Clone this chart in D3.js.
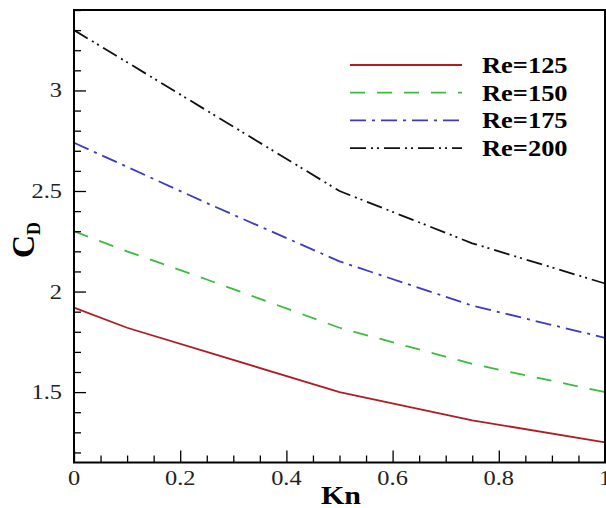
<!DOCTYPE html>
<html lang="en">
<head>
<meta charset="UTF-8">
<title>CD vs Kn</title>
<script src="https://d3js.org/d3.v7.min.js"></script>
<style>
    body, html {
        margin: 0;
        background: white;
    }
</style>
</head>
<body>
<svg id="chart"></svg>
<script>
    // data
    const kn = [0, 0.1, 0.25, 0.5, 0.75, 1];
    const re125 = [1.92, 1.82, 1.70, 1.50, 1.36, 1.25];
    const re150 = [2.30, 2.20, 2.06, 1.82, 1.64, 1.50];
    const re175 = [2.74, 2.62, 2.44, 2.15, 1.93, 1.77];
    const re200 = [3.30, 3.14, 2.90, 2.50, 2.24, 2.04];
    const seriesNames = ["Re=125", "Re=150", "Re=175", "Re=200"];
    const xTicks = [0, 0.2, 0.4, 0.6, 0.8, 1];
    const yTicks = [1.5, 2, 2.5, 3];

    const serif = "'Liberation Serif', 'Times New Roman', Times, serif";

    const svgWidth = 606, svgHeight = 508;
    const margin = { top: 10, right: 1, bottom: 45.5, left: 74 };

    const svg = d3.select("#chart")
        .attr("width", svgWidth)
        .attr("height", svgHeight)
        .style("font-family", serif);

    const x = d3.scaleLinear().domain([0, 1]).range([margin.left, svgWidth - margin.right]);
    const y = d3.scaleLinear().domain([1.15, 3.4]).range([svgHeight - margin.bottom, margin.top]);

    // image is a bit stretched sideways, widen the text to match
    function stretch(sel, k) {
        sel.each(function () {
            const w = this.getComputedTextLength();
            d3.select(this).attr("textLength", w * k).attr("lengthAdjust", "spacingAndGlyphs");
        });
    }

    const styles = [
        { color: "#b01c22", dash: null },
        { color: "#3dbb3d", dash: "15,12" },
        { color: "#3b3bc4", dash: "16,6,3,6" },
        { color: "#111111", dash: "16,5,2,4,2,5" }
    ];
    const series = [re125, re150, re175, re200];

    const line = d3.line()
        .x((d, i) => x(kn[i]))
        .y(d => y(d));

    series.forEach((s, i) => {
        svg.append("path")
            .datum(s)
            .attr("fill", "none")
            .attr("stroke", styles[i].color)
            .attr("stroke-width", 1.8)
            .attr("stroke-dasharray", styles[i].dash)
            .attr("d", line);
    });

    // x axis, ticks point inward
    const xAxis = svg.append("g")
        .attr("transform", `translate(0,${y(1.15)})`)
        .call(d3.axisBottom(x).tickValues(d3.range(0, 1.0001, 0.05)).tickSize(-7).tickFormat(""));
    xAxis.selectAll(".tick line").filter(d => xTicks.some(t => Math.abs(t - d) < 1e-6)).attr("y2", -12);
    xAxis.selectAll(".tick line").attr("stroke-width", 1.3);
    xAxis.select(".domain").remove();

    svg.append("g").selectAll("text")
        .data(xTicks)
        .enter().append("text")
        .attr("x", d => x(d))
        .attr("y", 485)
        .attr("text-anchor", "middle")
        .attr("font-family", serif)
        .attr("font-size", 20)
        .attr("fill", "#222")
        .text(d => d3.format("")(d))
        .call(stretch, 1.22);

    // y axis
    const yAxis = svg.append("g")
        .attr("transform", `translate(${x(0)},0)`)
        .call(d3.axisLeft(y).tickValues(d3.range(1.2, 3.4001, 0.1)).tickSize(-7).tickFormat(""));
    yAxis.selectAll(".tick line").filter(d => yTicks.some(t => Math.abs(t - d) < 1e-6)).attr("x2", 12);
    yAxis.selectAll(".tick line").attr("stroke-width", 1.3);
    yAxis.select(".domain").remove();

    svg.append("g").selectAll("text")
        .data(yTicks)
        .enter().append("text")
        .attr("x", 62)
        .attr("y", d => y(d) + 7)
        .attr("text-anchor", "end")
        .attr("font-family", serif)
        .attr("font-size", 20)
        .attr("fill", "#222")
        .text(d => d)
        .call(stretch, 1.22);

    // frame
    svg.append("rect")
        .attr("x", x(0))
        .attr("y", y(3.4))
        .attr("width", x(1) - x(0))
        .attr("height", y(1.15) - y(3.4))
        .attr("fill", "none")
        .attr("stroke", "black")
        .attr("stroke-width", 2);

    // axis titles
    svg.append("text")
        .attr("x", 341)
        .attr("y", 504)
        .attr("text-anchor", "middle")
        .attr("font-family", serif)
        .attr("font-size", 25)
        .attr("font-weight", "bold")
        .text("Kn")
        .call(stretch, 1.2);

    const cd = svg.append("text")
        .attr("transform", "translate(34,240) rotate(-90)")
        .attr("text-anchor", "middle")
        .attr("font-family", serif)
        .attr("font-size", 32)
        .attr("font-weight", "bold");
    cd.append("tspan").text("C");
    cd.append("tspan").attr("dy", 6).attr("font-size", 18).text("D");

    // legend
    const legend = svg.selectAll(".legend")
        .data(seriesNames)
        .enter().append("g")
        .attr("class", "legend")
        .attr("transform", (d, i) => `translate(0,${65 + i * 27.7})`);

    legend.append("line")
        .attr("x1", 350)
        .attr("x2", 462)
        .attr("stroke", (d, i) => styles[i].color)
        .attr("stroke-width", 1.8)
        .attr("stroke-dasharray", (d, i) => styles[i].dash);

    legend.append("text")
        .attr("x", 482)
        .attr("y", 8)
        .attr("font-family", serif)
        .attr("font-size", 23)
        .attr("font-weight", "bold")
        .text(d => d)
        .call(stretch, 1.15);
</script>
</body>
</html>
